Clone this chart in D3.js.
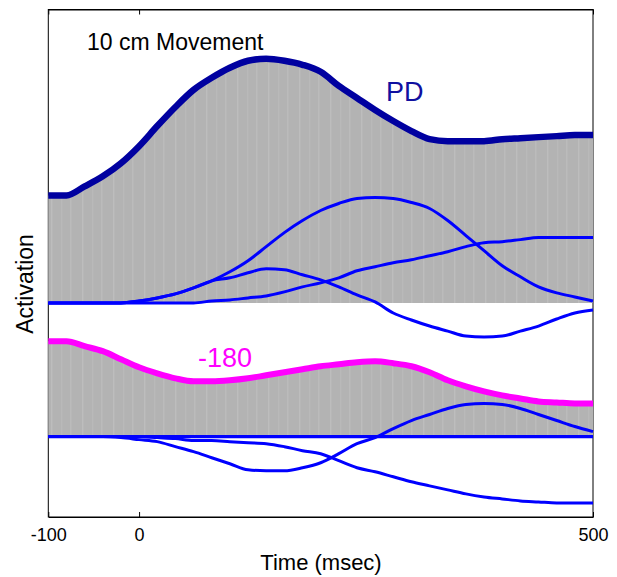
<!DOCTYPE html>
<html>
<head>
<meta charset="utf-8">
<script src="https://cdn.jsdelivr.net/npm/d3@7"></script>
<style>
  html, body { margin: 0; padding: 0; background: #fff; }
  svg { display: block; font-family: "Liberation Sans", Arial, sans-serif; }
</style>
</head>
<body>
<svg id="chart" width="617" height="577"></svg>
<script>
// ---- data ----
const times = [-100, -80, -60, -40, -20, 0, 20, 40, 60, 80, 100, 120, 140, 160, 180, 200,
  220, 240, 260, 280, 300, 320, 340, 360, 380, 400, 420, 440, 460, 480, 500];

// PD direction (top panel): total activation and its three components
const pdTotal = [1.07, 1.07, 1.16, 1.26, 1.39, 1.56, 1.76, 1.95, 2.12, 2.24, 2.34, 2.41, 2.43, 2.41, 2.37, 2.30,
  2.16, 2.04, 1.92, 1.81, 1.71, 1.63, 1.61, 1.61, 1.61, 1.63, 1.64, 1.65, 1.66, 1.67, 1.67];
const pdCompA = [0, 0, 0, 0, 0, 0.02, 0.05, 0.09, 0.15, 0.22, 0.31, 0.42, 0.56, 0.70, 0.82, 0.92,
  0.99, 1.04, 1.05, 1.04, 1.00, 0.94, 0.82, 0.67, 0.52, 0.37, 0.26, 0.16, 0.10, 0.06, 0.02];
const pdCompB = [0, 0, 0, 0, 0, 0.02, 0.05, 0.09, 0.15, 0.22, 0.25, 0.30, 0.34, 0.33, 0.28, 0.23,
  0.16, 0.08, 0.01, -0.10, -0.17, -0.23, -0.28, -0.33, -0.34, -0.33, -0.28, -0.23, -0.16, -0.10, -0.07];
const pdCompC = [0, 0, 0, 0, 0, 0, 0, 0, 0, 0.02, 0.03, 0.05, 0.07, 0.11, 0.16, 0.20,
  0.25, 0.32, 0.36, 0.40, 0.43, 0.47, 0.51, 0.56, 0.60, 0.61, 0.63, 0.65, 0.65, 0.65, 0.65];

// -180 direction (bottom panel): total activation and its three components
const oppTotal = [0.95, 0.95, 0.90, 0.85, 0.77, 0.69, 0.63, 0.58, 0.55, 0.55, 0.56, 0.58, 0.61, 0.64, 0.67, 0.70,
  0.72, 0.74, 0.75, 0.73, 0.70, 0.64, 0.56, 0.50, 0.45, 0.41, 0.38, 0.35, 0.34, 0.33, 0.33];
const oppCompD = [0, 0, 0, 0, -0.01, -0.03, -0.05, -0.10, -0.15, -0.21, -0.27, -0.33, -0.34, -0.34, -0.31, -0.26,
  -0.17, -0.07, -0.01, 0.08, 0.16, 0.22, 0.28, 0.32, 0.33, 0.32, 0.28, 0.22, 0.16, 0.10, 0.05];
const oppCompE = [0, 0, 0, 0, 0, 0, -0.01, -0.02, -0.04, -0.04, -0.05, -0.06, -0.07, -0.10, -0.14, -0.17,
  -0.24, -0.31, -0.35, -0.40, -0.45, -0.49, -0.53, -0.57, -0.60, -0.62, -0.64, -0.65, -0.66, -0.66, -0.66];
const oppCompF = [0, 0, 0, 0, 0, 0, 0, 0, 0, 0, 0, 0, 0, 0, 0, 0,
  0, 0, 0, 0, 0, 0, 0, 0, 0, 0, 0, 0, 0, 0, 0];

const panelOffsets = { top: 1.33, bottom: 0 };
const xTicks = [-100, 0, 500];
const labels = { title: "10 cm Movement", pd: "PD", opp: "-180", x: "Time (msec)", y: "Activation" };

// ---- drawing ----
const svg = d3.select("#chart");
const L = 48.3, R = 593, T = 9.5, B = 517;
const x = d3.scaleLinear().domain([-100, 500]).range([L, R]);
const y = d3.scaleLinear().domain([-0.8, 4.25]).range([B, T]);

// faint vertical seams seen in the grey fill
const defs = svg.append("defs");
const pat = defs.append("pattern").attr("id", "seams").attr("patternUnits", "userSpaceOnUse")
  .attr("width", 31).attr("height", 10).attr("x", L);
pat.append("rect").attr("width", 31).attr("height", 10).attr("fill", "#b3b3b3");
[[3, 0.45], [13, 0.25], [22, 0.4]].forEach(([px, op]) => {
  pat.append("rect").attr("x", px).attr("width", 1).attr("height", 10).attr("fill", "#d2d2d2").attr("opacity", op);
});

// frame
svg.append("rect").attr("x", L).attr("y", T).attr("width", R - L).attr("height", B - T)
  .attr("fill", "none").attr("stroke", "#000").attr("stroke-width", 1);

function series(vals, off) { return times.map((t, i) => ({ t, v: vals[i] + off })); }

const area = off => d3.area().x(d => x(d.t)).y0(y(off)).y1(d => y(d.v)).curve(d3.curveMonotoneX);
const line = d3.line().x(d => x(d.t)).y(d => y(d.v)).curve(d3.curveMonotoneX);

// fills
svg.append("path").datum(series(pdTotal, panelOffsets.top)).attr("d", area(panelOffsets.top)).attr("fill", "url(#seams)");
svg.append("path").datum(series(oppTotal, panelOffsets.bottom)).attr("d", area(panelOffsets.bottom)).attr("fill", "url(#seams)");

// component lines
[pdCompC, pdCompB, pdCompA].forEach(c => {
  svg.append("path").datum(series(c, panelOffsets.top)).attr("d", line)
    .attr("fill", "none").attr("stroke", "#0000ff").attr("stroke-width", 3).attr("stroke-linejoin", "round");
});
[oppCompF, oppCompE, oppCompD].forEach((c, i) => {
  svg.append("path").datum(series(c, panelOffsets.bottom)).attr("d", line)
    .attr("fill", "none").attr("stroke", "#0000ff").attr("stroke-width", i === 0 ? 3.4 : 3).attr("stroke-linejoin", "round");
});

// totals
svg.append("path").datum(series(pdTotal, panelOffsets.top)).attr("d", line)
  .attr("fill", "none").attr("stroke", "#0000a0").attr("stroke-width", 6.5).attr("stroke-linejoin", "round");
svg.append("path").datum(series(oppTotal, panelOffsets.bottom)).attr("d", line)
  .attr("fill", "none").attr("stroke", "#ff00ff").attr("stroke-width", 6).attr("stroke-linejoin", "round");

// axes
const xAxis = d3.axisBottom(x).tickValues(xTicks).tickFormat(d => String(d))
  .tickSizeInner(-5).tickSizeOuter(0).tickPadding(11);
const gx = svg.append("g").attr("transform", `translate(0,${B})`).call(xAxis);
gx.selectAll("text").attr("font-size", 18).attr("font-family", '"Liberation Sans", Arial, sans-serif').attr("fill", "#000");
gx.selectAll("line").attr("stroke", "#000");
gx.select(".domain").attr("stroke", "#000");

const xTop = d3.axisTop(x).tickValues(xTicks).tickSizeInner(-5).tickSizeOuter(0).tickFormat("");
const gt = svg.append("g").attr("transform", `translate(0,${T})`).call(xTop);
gt.selectAll("line").attr("stroke", "#000");
gt.select(".domain").attr("stroke", "#000");

// texts
svg.append("text").attr("x", 87).attr("y", 50).attr("font-size", 23).attr("fill", "#000").text(labels.title);
svg.append("text").attr("x", 386).attr("y", 101).attr("font-size", 27).attr("fill", "#1010a0").text(labels.pd);
svg.append("text").attr("x", 198).attr("y", 367).attr("font-size", 27).attr("fill", "#ff00ff").text(labels.opp);
svg.append("text").attr("x", 321).attr("y", 570).attr("text-anchor", "middle").attr("font-size", 22).attr("fill", "#000").text(labels.x);
svg.append("text").attr("transform", "translate(33,284) rotate(-90)").attr("text-anchor", "middle")
  .attr("font-size", 23).attr("fill", "#000").text(labels.y);
</script>
</body>
</html>
